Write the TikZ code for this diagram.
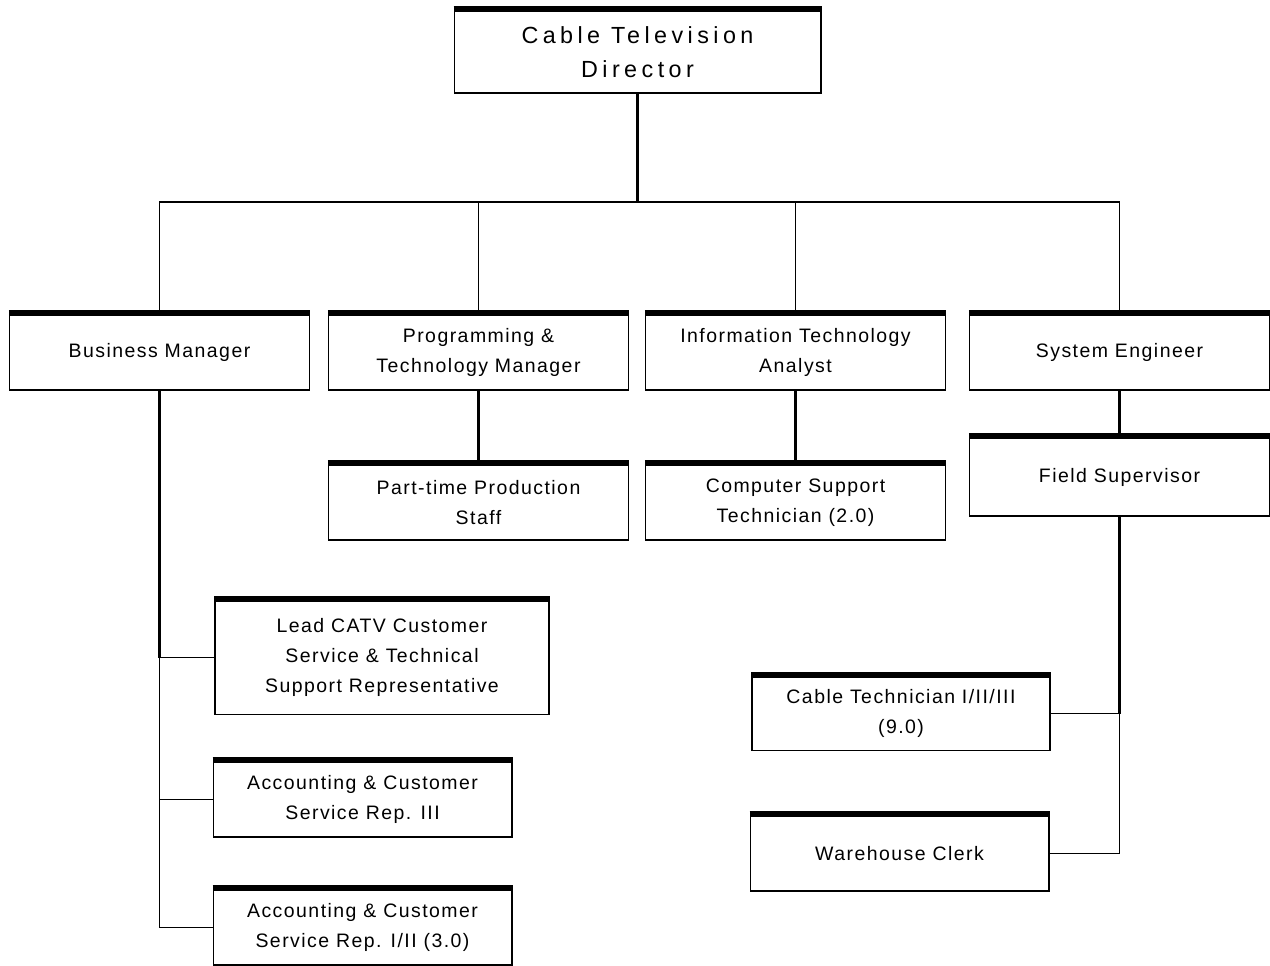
\documentclass[tikz,border=0pt]{standalone}
\usepackage{fontspec}
\setmainfont{Liberation Sans}
\usetikzlibrary{positioning}

\newcommand{\postfont}{\fontsize{14.6}{22.5}\selectfont\addfontfeatures{LetterSpace=7.5}}
\newcommand{\headfont}{\fontsize{17.5}{26}\selectfont\addfontfeatures{LetterSpace=19}}

\tikzset{
  post/.style={draw, line width=1pt, align=center, inner sep=0pt,
    minimum width=225pt, minimum height=56pt, font=\postfont},
  topbar/.style={line width=4pt},
  link/.style={line width=1pt},
  trunk/.style={line width=2.2pt}
}

\begin{document}
\begin{tikzpicture}[x=0.75pt,y=-0.75pt]
  \useasboundingbox (0,0) rectangle (1270,966);

  \node[post, minimum width=275pt, minimum height=61.5pt, font=\headfont]
    (dir) at (637.5,52) {Cable Television\\Director};

  \node[post] (bm)  at (159.5,352.5) {Business Manager};
  \node[post] (pm)  at (478.5,352.5) {Programming \&\\Technology Manager};
  \node[post] (ita) at (795.5,352.5) {Information Technology\\Analyst};
  \node[post] (se)  at (1119.5,352.5) {System Engineer};

  \node[post] (pt)  at (478.5,502.5) {Part-time Production\\Staff};
  \node[post] (cs)  at (795.5,502.5) {Computer Support\\Technician (2.0)};
  \node[post, minimum height=58.5pt] (fs) at (1119.5,477) {Field Supervisor};

  \node[post, minimum width=250.5pt, minimum height=85pt]
    (lead) at (382,657.5) {Lead CATV Customer\\Service \& Technical\\Support Representative};
  \node[post, minimum width=224pt] (acc3)  at (362.5,799.5) {Accounting \& Customer\\Service Rep. III};
  \node[post, minimum width=224pt] (acc12) at (362.5,927.5) {Accounting \& Customer\\Service Rep. I/II (3.0)};

  \node[post, minimum width=223.5pt, minimum height=55pt]
    (ct) at (901,713.5) {Cable Technician I/II/III\\(9.0)};
  \node[post, minimum width=224pt] (wc) at (899.5,853.5) {Warehouse Clerk};

  % heavy rule along the top of every box
  \foreach \n in {dir,bm,pm,ita,se,pt,cs,fs,lead,acc3,acc12,ct,wc}
    \draw[topbar] ([yshift=1.5pt]\n.north west) -- ([yshift=1.5pt]\n.north east);

  % director down to the bus
  \coordinate (bus) at (637.5,202);
  \draw[trunk] (dir.south) -- (bus);
  \draw[link] (bm.north) |- (bus) -| (se.north);
  \draw[link] (pm.north) -- (pm.north |- bus)
              (ita.north) -- (ita.north |- bus);

  \draw[trunk] (pm.south) -- (pt.north)
               (ita.south) -- (cs.north)
               (se.south) -- (fs.north);

  % business manager staff
  \coordinate (b1) at (bm.south |- lead.west);
  \coordinate (b2) at (bm.south |- acc3.west);
  \coordinate (b3) at (bm.south |- acc12.west);
  \draw[trunk] (bm.south) -- (b1);
  \draw[link] (b1) -- (lead.west) (b1) -- (b2) -- (acc3.west) (b2) -- (b3) -- (acc12.west);

  % field staff
  \coordinate (f1) at (fs.south |- ct.east);
  \coordinate (f2) at (fs.south |- wc.east);
  \draw[trunk] (fs.south) -- (f1);
  \draw[link] (f1) -- (ct.east) (f1) -- (f2) -- (wc.east);
\end{tikzpicture}
\end{document}
